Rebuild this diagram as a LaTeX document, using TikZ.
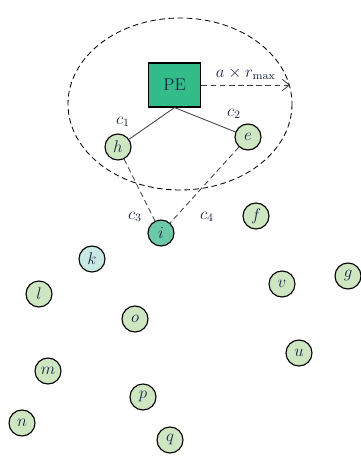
\documentclass[tikz,border=0pt]{standalone}
\usepackage{amsmath,amssymb}
\usepackage{xcolor}
\usepackage{tikz}
\usetikzlibrary{arrows.meta,positioning,calc}

\definecolor{peteal}{HTML}{33BB8A}
\definecolor{headteal}{HTML}{6CC9A8}
\definecolor{leafgreen}{HTML}{CFE6C2}
\definecolor{leafcyan}{HTML}{C9E9E5}
\definecolor{inkblue}{HTML}{1A2444}

\begin{document}
\begin{tikzpicture}[
    x=0.025cm, y=-0.025cm,
    sensor/.style={draw, circle, thick, fill=leafgreen, minimum size=0.65cm, inner sep=0pt, text=inkblue, font=\large},
    pe/.style={draw, thick, fill=peteal, minimum width=1.32cm, minimum height=1.1cm, text=inkblue, font=\large},
    link/.style={semithick, draw=black!75},
    hop/.style={semithick, dash pattern=on 4pt off 2.5pt, draw=black!75},
    cost/.style={text=inkblue, font=\large},
]
\useasboundingbox (0,0) rectangle (360,457);

% communication range
\draw[semithick, dash pattern=on 4pt off 2.5pt] (180,104) ellipse [x radius=112, y radius=86];

% processing element
\node[pe] (pe) at (174.5,85) {PE};
\coordinate (range) at (290,85);
\draw[hop, -{Straight Barb[length=5pt,width=8pt]}] (pe.east) -- node[above, text=inkblue, font=\large] {$a\times r_{\max}$} (range);

% sensor nodes
\node[sensor] (h) at (118,147) {$h$};
\node[sensor] (e) at (248,137) {$e$};
\node[sensor, fill=headteal] (i) at (161,233) {$i$};
\node[sensor] (f) at (256,216) {$f$};
\node[sensor, fill=leafcyan] (k) at (92,259) {$k$};
\node[sensor] (g) at (348,276) {$g$};
\node[sensor] (v) at (282,284) {$v$};
\node[sensor] (l) at (39,294) {$l$};
\node[sensor] (o) at (135,319) {$o$};
\node[sensor] (u) at (299,353) {$u$};
\node[sensor] (m) at (48,371) {$m$};
\node[sensor] (p) at (143,397) {$p$};
\node[sensor] (n) at (22,423) {$n$};
\node[sensor] (q) at (170,440) {$q$};

% routes
\draw[link] (pe.south) -- (h);
\draw[link] (pe.south) -- (e);
\draw[hop] (h) -- (i);
\draw[hop] (e) -- (i);

% link costs
\node[cost] (c1) at (123,122) {$c_1$};
\node[cost] (c2) at (234,114) {$c_2$};
\node[cost] (c3) at (135,217) {$c_3$};
\node[cost] (c4) at (207,217) {$c_4$};
\end{tikzpicture}
\end{document}
